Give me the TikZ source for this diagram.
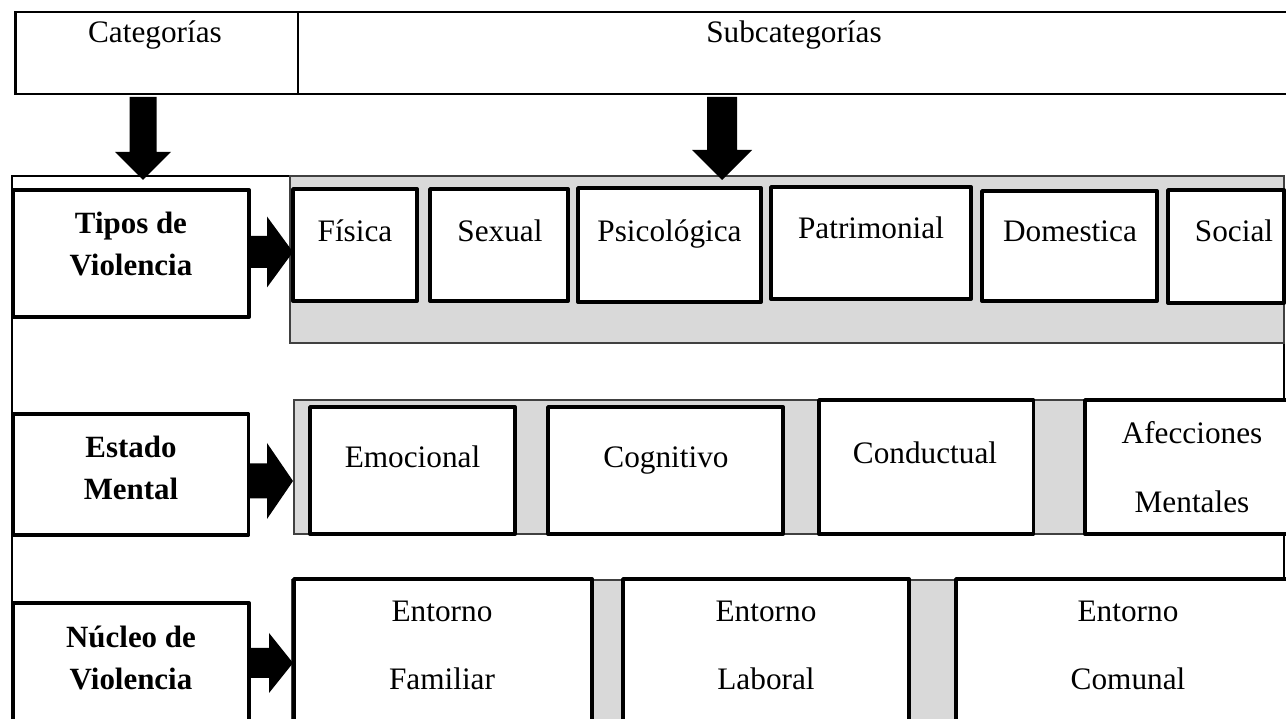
\documentclass[tikz,border=0pt]{standalone}
\usepackage{fontspec}
\setmainfont{Liberation Serif}
\usetikzlibrary{positioning, calc, fit}
\definecolor{panelgray}{HTML}{D9D9D9}

\begin{document}
\begin{tikzpicture}[x=0.02cm, y=-0.02cm,
    headbox/.style={draw, line width=1.7pt, inner sep=0pt},
    catbox/.style={draw, fill=white, line width=2.2pt, line join=round, inner sep=0pt},
    subbox/.style={draw, fill=white, line width=2.2pt, line join=round, inner sep=0pt},
    panel/.style={draw=black!75, fill=panelgray, line width=0.8pt, inner sep=0pt},
    lbl/.style={anchor=base, inner sep=0pt, font=\fontsize{17.8}{21}\selectfont},
    lblbold/.style={lbl, font=\fontsize{17.6}{21}\selectfont\bfseries}]

  \useasboundingbox (0,0) rectangle (1286,719);
  \clip (0,0) rectangle (1286,719);

  % header
  \node[headbox, fit={(15.5,12) (298,94)}] (cathead) {};
  \node[headbox, fit={(298,12) (1300,94)}] (subhead) {};
  \node[lbl] (categorias) at (155,43) {Categorías};
  \node[lbl] (subcategorias) at (794,43) {Subcategorías};

  % outer frame and grey panels
  \node[draw, line width=0.8pt, inner sep=0pt, fit={(12,176) (1284,760)}] (frame) {};
  \node[panel, fit={(290,176) (1284,343)}] (panelA) {};
  \node[panel, fit={(294,400) (1284,534)}] (panelB) {};
  \node[panel, fit={(292,580) (1284,760)}] (panelC) {};

  % categories
  \node[catbox, fit={(12.7,190) (249,317)}] (tipos) {};
  \node[catbox, fit={(12.7,414) (248.5,535)}] (estado) {};
  \node[catbox, fit={(12.7,603) (249,760)}] (nucleo) {};
  \foreach \n/\y/\t in {tiposA/234/Tipos de, tiposB/276/Violencia,
                        estadoA/458/Estado, estadoB/500/Mental,
                        nucleoA/648/Núcleo de, nucleoB/690/Violencia}
    \node[lblbold] (\n) at (131,\y) {\t};

  % subcategories
  \foreach \n/\xa/\ya/\xb/\yb in {fisica/293/189/417/301, sexual/430/189/568/301,
      psico/578/188/761/302, patri/771/187/971/299, domes/982/191/1157/301,
      social/1168/190/1284/303,
      emoc/310/407/515/534, cogn/548/407/783/534, conduc/819/400/1033.5/534,
      afecc/1085/400/1295/534,
      famil/294/579/592/760, labor/623/579/909/760, comun/956/579/1295/760}
    \node[subbox, fit={(\xa,\ya) (\xb,\yb)}] (\n) {};

  \foreach \n/\x/\y/\t in {fisicaT/355/241.5/Física, sexualT/500/241.5/Sexual,
      psicoT/669.5/241.5/Psicológica, patriT/871/239/Patrimonial,
      domesT/1070/241.5/Domestica, socialT/1234/241.5/Social,
      emocT/412.5/467.5/Emocional, cognT/666/467.5/Cognitivo,
      conducT/925/464/Conductual, afeccA/1192/444/Afecciones,
      afeccB/1192/513/Mentales,
      familA/442/621.5/Entorno, familB/442/690/Familiar,
      laborA/766/621.5/Entorno, laborB/766/690/Laboral,
      comunA/1128/621.5/Entorno, comunB/1128/690/Comunal}
    \node[lbl] (\n) at (\x,\y) {\t};

  % block arrows
  \foreach \cx/\sw/\hw/\hy in {143/13.5/28/152, 722/15/30/150}
    \fill (\cx-\sw,97) -- (\cx+\sw,97) -- (\cx+\sw,\hy) -- (\cx+\hw,\hy)
      -- (\cx,180) -- (\cx-\hw,\hy) -- (\cx-\sw,\hy) -- cycle;
  \foreach \cy/\sw/\hw/\hx in {252/16/35.5/267, 481/17.5/38/267, 663/15/30/269}
    \fill (249,\cy-\sw) -- (\hx,\cy-\sw) -- (\hx,\cy-\hw) -- (293,\cy)
      -- (\hx,\cy+\hw) -- (\hx,\cy+\sw) -- (249,\cy+\sw) -- cycle;
\end{tikzpicture}
\end{document}
